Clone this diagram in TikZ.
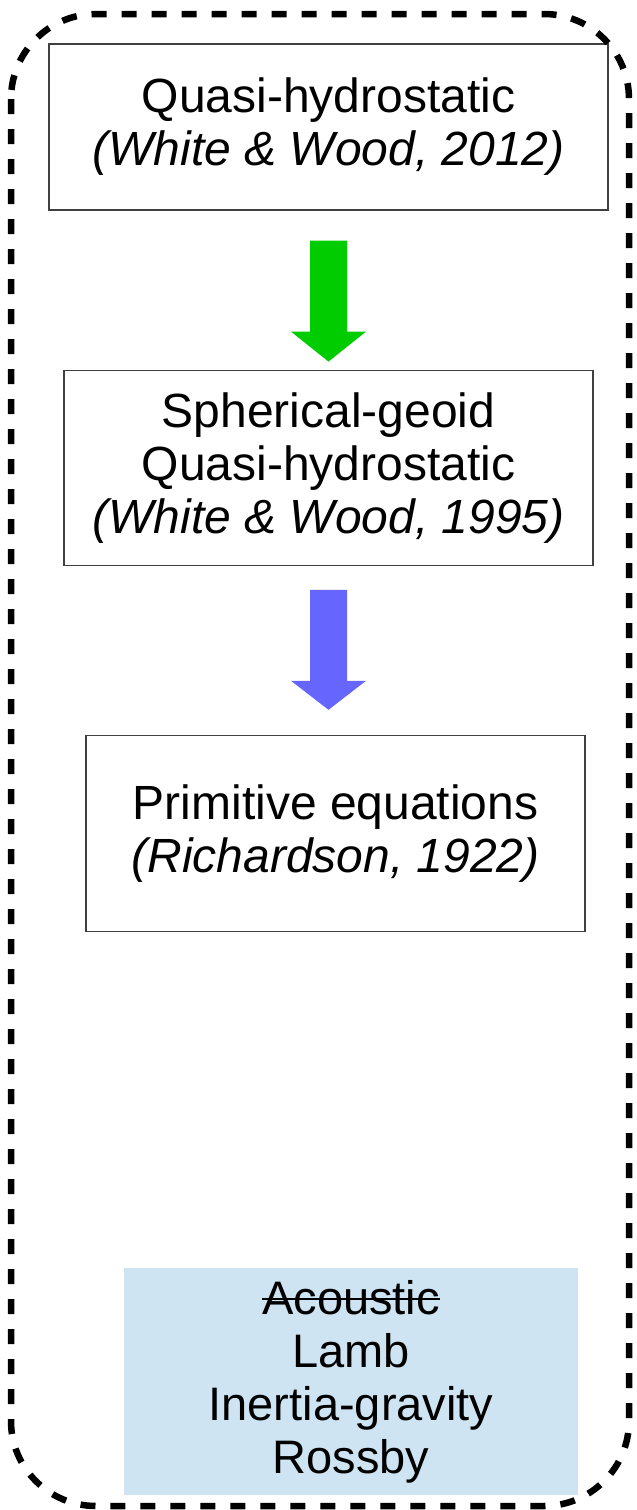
\documentclass[tikz,border=0pt]{standalone}
\usepackage{fontspec}
\setmainfont{Liberation Sans}
\usepackage{tikz}
\usetikzlibrary{positioning,calc}
\definecolor{arrgreen}{RGB}{0,204,0}
\definecolor{arrblue}{RGB}{102,102,255}
\definecolor{wavefill}{RGB}{207,228,242}
\newsavebox{\strikebox}
\newcommand{\strikeword}[1]{\sbox{\strikebox}{#1}%
  \rlap{\raisebox{0.3em}{\rule{\wd\strikebox}{2.5pt}}}\usebox{\strikebox}}
\tikzset{
  modelbox/.style={draw=black!75, line width=1.2pt, align=center,
                   font=\fontsize{48}{53}\selectfont, inner sep=0pt},
  wavebox/.style={fill=wavefill, align=center,
                  font=\fontsize{47}{53}\selectfont, inner sep=0pt,
                  minimum width=454pt, minimum height=227pt},
  frame/.style={line width=6.5pt, dash pattern=on 15pt off 15pt, rounded corners=85pt},
  blockarr/.style={draw=none}
}

\begin{document}
\begin{tikzpicture}[x=1pt, y=1pt]
        \useasboundingbox (0,0) rectangle (637,-1510);
        \node[modelbox, minimum width=559pt, minimum height=166pt] (qh) at (328.5,-127)
          {Quasi-hydrostatic\\\textit{(White \& Wood, 2012)}};
        \node[modelbox, minimum width=529pt, minimum height=195pt, below=159pt of qh] (sg)
          {Spherical-geoid\\Quasi-hydrostatic\\\textit{(White \& Wood, 1995)}};
        \node[modelbox, minimum width=499pt, minimum height=196pt, below=169pt of sg, xshift=7pt] (pe)
          {Primitive equations\\\textit{(Richardson, 1922)}};
        \node[wavebox] (waves) at (351,-1381.5)
          {\strikeword{Acoustic}\\Lamb\\Inertia-gravity\\Rossby};
        % block arrows between the models
        \coordinate (g) at ($(qh.south)+(0,-30)$);
        \fill[blockarr, arrgreen] (g) ++(-18.5,0) -- ++(0,-91) -- ++(-19,0) -- ++(37.5,-30)
          -- ++(37.5,30) -- ++(-19,0) -- ++(0,91) -- cycle;
        \coordinate (b) at ($(sg.south)+(0,-24)$);
        \fill[blockarr, arrblue] (b) ++(-18.5,0) -- ++(0,-91) -- ++(-19,0) -- ++(37.5,-29)
          -- ++(37.5,29) -- ++(-19,0) -- ++(0,91) -- cycle;
        % dashed frame
        \draw[frame] (11,-14) rectangle (629,-1506);
      \end{tikzpicture}
\end{document}
